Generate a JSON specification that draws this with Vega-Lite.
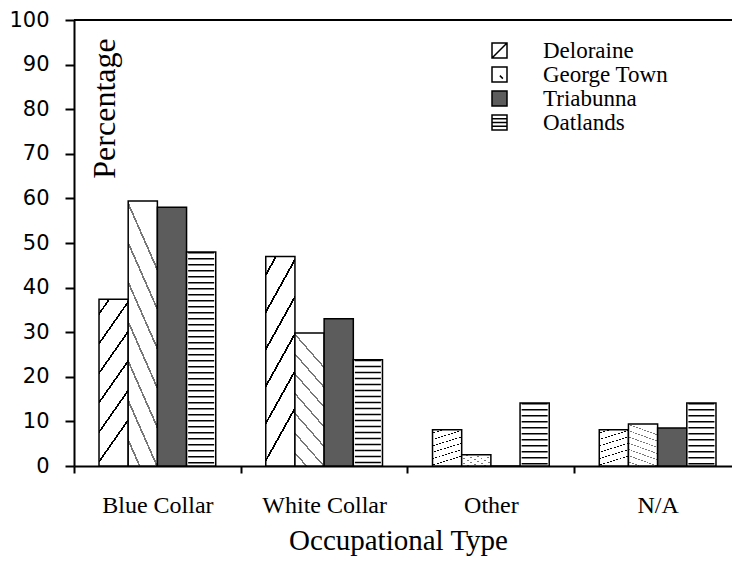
{
  "$schema": "https://vega.github.io/schema/vega-lite/v6.json",
  "width": 667,
  "height": 446,
  "autosize": "none",
  "padding": {"left": 74, "top": 20, "right": 0, "bottom": 96},
  "background": "white",
  "config": {"view": {"stroke": null}},
  "data": {"values": [
    {"type": "Blue Collar", "town": "Deloraine", "pct": 37.4},
    {"type": "Blue Collar", "town": "George Town", "pct": 59.4},
    {"type": "Blue Collar", "town": "Triabunna", "pct": 58},
    {"type": "Blue Collar", "town": "Oatlands", "pct": 48},
    {"type": "White Collar", "town": "Deloraine", "pct": 47},
    {"type": "White Collar", "town": "George Town", "pct": 29.8},
    {"type": "White Collar", "town": "Triabunna", "pct": 33},
    {"type": "White Collar", "town": "Oatlands", "pct": 23.8},
    {"type": "Other", "town": "Deloraine", "pct": 8.1},
    {"type": "Other", "town": "George Town", "pct": 2.5},
    {"type": "Other", "town": "Triabunna", "pct": 0},
    {"type": "Other", "town": "Oatlands", "pct": 14.1},
    {"type": "N/A", "town": "Deloraine", "pct": 8.1},
    {"type": "N/A", "town": "George Town", "pct": 9.4},
    {"type": "N/A", "town": "Triabunna", "pct": 8.5},
    {"type": "N/A", "town": "Oatlands", "pct": 14.1}
  ]},
  "layer": [
    {
      "mark": {"type": "bar", "stroke": "black", "strokeWidth": 1.5},
      "encoding": {
        "x": {
          "field": "type", "type": "nominal",
          "sort": ["Blue Collar", "White Collar", "Other", "N/A"],
          "scale": {"paddingInner": 0.3, "paddingOuter": 0.15},
          "axis": {
            "title": "Occupational Type",
            "titleFont": "Liberation Serif", "titleFontSize": 29, "titleFontWeight": "normal",
            "titleColor": "black", "titlePadding": 9, "titleX": 324,
            "labelFont": "Liberation Serif", "labelFontSize": 24, "labelColor": "black",
            "labelPadding": 20, "labelAngle": 0,
            "domainColor": "black", "domainWidth": 2,
            "tickColor": "black", "tickWidth": 2, "tickSize": 7,
            "tickOffset": -83.4, "labelOffset": 83.4
          }
        },
        "xOffset": {
          "field": "town", "type": "nominal",
          "sort": ["Deloraine", "George Town", "Triabunna", "Oatlands"],
          "scale": {"paddingInner": 0, "paddingOuter": 0}
        },
        "y": {
          "field": "pct", "type": "quantitative",
          "scale": {"domain": [0, 100], "nice": false},
          "axis": {
            "title": "Percentage",
            "titleFont": "Liberation Serif", "titleFontSize": 32, "titleFontWeight": "normal",
            "titleColor": "black", "titleAngle": 270, "titleX": 40, "titleY": 88,
            "titleAlign": "center", "titleBaseline": "alphabetic",
            "values": [0, 10, 20, 30, 40, 50, 60, 70, 80, 90, 100],
            "grid": false,
            "labelFont": "DejaVu Sans", "labelFontSize": 21, "labelColor": "black", "labelPadding": 16,
            "domainColor": "black", "domainWidth": 2,
            "tickColor": "black", "tickWidth": 2, "tickSize": 9
          }
        },
        "fill": {
          "field": "town", "type": "nominal",
          "scale": {
            "domain": ["Deloraine", "George Town", "Triabunna", "Oatlands"],
            "range": ["white", "white", "#5c5c5c", "white"]
          },
          "condition": [
            {"test": "datum.town === 'Deloraine'", "value": {"gradient": "linear", "x1": 0, "y1": 0, "x2": 0.25, "y2": 1, "stops": [
                {"offset": 0, "color": "white"},
                {"offset": 0.075, "color": "white"}, {"offset": 0.075, "color": "black"}, {"offset": 0.091, "color": "black"}, {"offset": 0.091, "color": "white"},
                {"offset": 0.242, "color": "white"}, {"offset": 0.242, "color": "black"}, {"offset": 0.258, "color": "black"}, {"offset": 0.258, "color": "white"},
                {"offset": 0.409, "color": "white"}, {"offset": 0.409, "color": "black"}, {"offset": 0.425, "color": "black"}, {"offset": 0.425, "color": "white"},
                {"offset": 0.575, "color": "white"}, {"offset": 0.575, "color": "black"}, {"offset": 0.591, "color": "black"}, {"offset": 0.591, "color": "white"},
                {"offset": 0.742, "color": "white"}, {"offset": 0.742, "color": "black"}, {"offset": 0.758, "color": "black"}, {"offset": 0.758, "color": "white"},
                {"offset": 0.909, "color": "white"}, {"offset": 0.909, "color": "black"}, {"offset": 0.925, "color": "black"}, {"offset": 0.925, "color": "white"},
                {"offset": 1, "color": "white"}
              ]}},
            {"test": "datum.town === 'George Town'", "value": {"gradient": "linear", "x1": 0.25, "y1": 0, "x2": 0, "y2": 1, "stops": [
                {"offset": 0, "color": "white"},
                {"offset": 0.06, "color": "white"}, {"offset": 0.06, "color": "#777"}, {"offset": 0.075, "color": "#777"}, {"offset": 0.075, "color": "white"},
                {"offset": 0.2, "color": "white"}, {"offset": 0.2, "color": "#777"}, {"offset": 0.215, "color": "#777"}, {"offset": 0.215, "color": "white"},
                {"offset": 0.34, "color": "white"}, {"offset": 0.34, "color": "#777"}, {"offset": 0.355, "color": "#777"}, {"offset": 0.355, "color": "white"},
                {"offset": 0.48, "color": "white"}, {"offset": 0.48, "color": "#777"}, {"offset": 0.495, "color": "#777"}, {"offset": 0.495, "color": "white"},
                {"offset": 0.62, "color": "white"}, {"offset": 0.62, "color": "#777"}, {"offset": 0.635, "color": "#777"}, {"offset": 0.635, "color": "white"},
                {"offset": 0.76, "color": "white"}, {"offset": 0.76, "color": "#777"}, {"offset": 0.775, "color": "#777"}, {"offset": 0.775, "color": "white"},
                {"offset": 0.9, "color": "white"}, {"offset": 0.9, "color": "#777"}, {"offset": 0.915, "color": "#777"}, {"offset": 0.915, "color": "white"},
                {"offset": 1, "color": "white"}
              ]}}
          ],
          "legend": {
            "title": null, "orient": "none", "legendX": 414, "legendY": 19,
            "symbolType": "square", "symbolSize": 225,
            "symbolStrokeColor": "black", "symbolStrokeWidth": 1.5, "symbolOpacity": 1,
            "labelFont": "Liberation Serif", "labelFontSize": 23, "labelColor": "black",
            "labelOffset": 32, "rowPadding": 0, "labelLimit": 300,
            "encode": {"symbols": {"update": {
              "stroke": {"value": "black"},
              "strokeWidth": {"value": 1.5},
              "shape": {"signal": "datum.value === 'Deloraine' ? 'M-1,-1H1V1H-1Z M-0.9,0.9L0.9,-0.9' : datum.value === 'George Town' ? 'M-1,-1H1V1H-1Z M0.05,0.15L0.45,0.55' : datum.value === 'Oatlands' ? 'M-1,-1H1V1H-1Z M-1,-0.5H1 M-1,0H1 M-1,0.5H1' : 'M-1,-1H1V1H-1Z'"}
            }}}
          }
        }
      }
    },
    {
      "transform": [{"filter": "datum.town === 'Oatlands'"}],
      "mark": {"type": "rule", "color": "black", "strokeWidth": 26, "strokeCap": "butt", "strokeDash": [1.5, 4.5]},
      "encoding": {
        "x": {"field": "type", "type": "nominal", "sort": ["Blue Collar", "White Collar", "Other", "N/A"]},
        "xOffset": {"field": "town", "type": "nominal", "sort": ["Deloraine", "George Town", "Triabunna", "Oatlands"]},
        "y": {"field": "pct", "type": "quantitative"},
        "y2": {"datum": 0}
      }
    },
    {
      "mark": {"type": "rule", "color": "black", "strokeWidth": 1.5},
      "encoding": {"y": {"datum": 100}}
    }
  ]
}
